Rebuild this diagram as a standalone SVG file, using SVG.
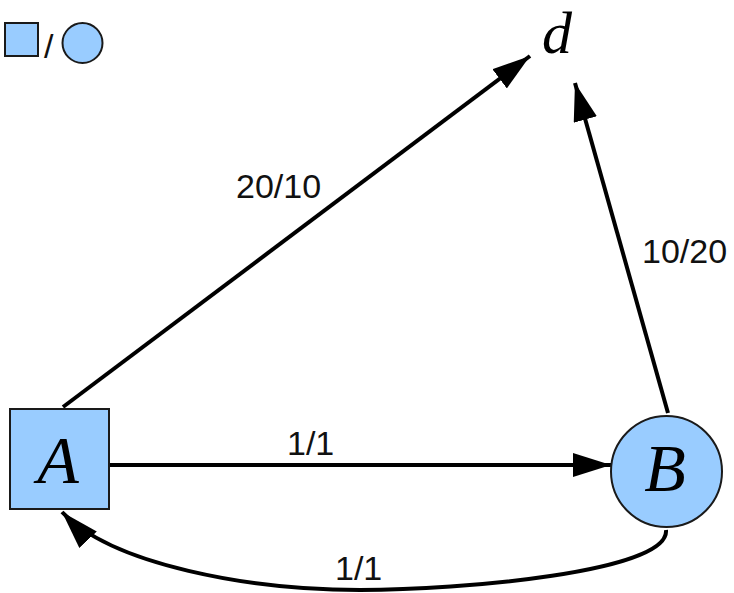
<svg xmlns="http://www.w3.org/2000/svg" width="734" height="593" viewBox="0 0 734 593">
<defs>
<style>
.node{fill:#99ccff;stroke:#1a1a1a;stroke-width:2}
.edge{fill:none;stroke:#000;stroke-width:4;marker-end:url(#ah)}
.lbl{font-family:"Liberation Sans",Arial,sans-serif;font-size:34px;fill:#111}
.var{font-family:"Liberation Serif","Times New Roman",serif;font-style:italic;fill:#000}
</style>
<marker id="ah" viewBox="0 0 38 24" refX="38" refY="12" markerWidth="38" markerHeight="24" markerUnits="userSpaceOnUse" orient="auto">
<path d="M0,0 L38,12 L0,24 z" fill="#000"/>
</marker>
</defs>
<g id="legend">
<rect class="node" x="5" y="23" width="33" height="33"/>
<text class="lbl" x="44" y="58" font-size="34">/</text>
<circle class="node" cx="82.5" cy="43" r="20"/>
</g>
<g id="connectors">
<line class="edge" x1="63" y1="407" x2="530" y2="56"/>
<line class="edge" x1="668" y1="413" x2="575" y2="83"/>
<line class="edge" x1="109" y1="465" x2="611" y2="465"/>
<path class="edge" d="M666,530 C670,572 460,590 360,590 C250,590 112,565 62,512"/>
<text class="lbl" x="236" y="198">20/10</text>
<text class="lbl" x="642" y="263">10/20</text>
<text class="lbl" x="287" y="455">1/1</text>
<text class="lbl" x="335" y="580">1/1</text>
</g>
<g id="A">
<rect class="node" x="10" y="409" width="99" height="100"/>
<text class="var" x="58" y="483" font-size="68" text-anchor="middle">A</text>
</g>
<g id="B">
<circle class="node" cx="666.5" cy="471.5" r="55.5"/>
<text class="var" x="665" y="491" font-size="68" text-anchor="middle">B</text>
</g>
<g id="d">
<text class="var" x="557" y="53" font-size="60" text-anchor="middle">d</text>
</g>
</svg>
